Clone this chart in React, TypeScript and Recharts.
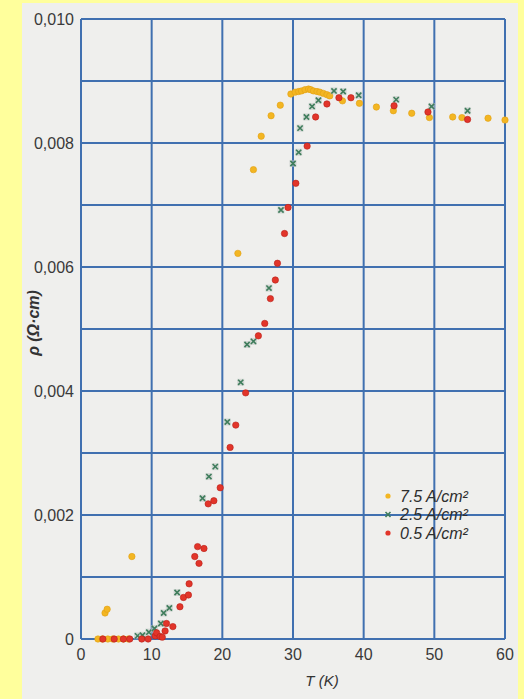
import { ScatterChart, Scatter, XAxis, YAxis, CartesianGrid, Legend } from 'recharts'

// T (K) and rho (ohm*cm), one pair of arrays per current density
const yellowT = [2.4, 3.0, 3.4, 3.7, 3.8, 4.5, 5.3, 6.0, 6.7, 7.2, 22.2, 24.4, 25.5, 26.9, 28.2, 29.7, 30.3, 30.8, 31.2, 31.7, 32.2, 32.5, 32.9, 33.4, 33.8, 34.3, 34.8, 35.2, 37.0, 39.4, 41.8, 44.2, 46.8, 49.3, 52.6, 53.9, 57.6, 60.0]
const yellowRho = [0, 0, 0.00042, 0.00048, 0, 0, 0, 0, 0, 0.00133, 0.00622, 0.00757, 0.00811, 0.00844, 0.00861, 0.00879, 0.00882, 0.00883, 0.00884, 0.00886, 0.00887, 0.00886, 0.00884, 0.00883, 0.00882, 0.0088, 0.00878, 0.00876, 0.00868, 0.00864, 0.00858, 0.00852, 0.00848, 0.00841, 0.00842, 0.00841, 0.0084, 0.00837]

const greenT = [8.0, 8.7, 9.6, 10.4, 11.3, 11.7, 12.5, 13.6, 17.2, 18.1, 19.0, 20.7, 22.6, 23.5, 24.4, 26.6, 28.3, 30.0, 30.8, 31.0, 31.9, 32.7, 33.6, 35.8, 37.1, 39.3, 44.6, 49.6, 54.7]
const greenRho = [0.00005, 0.00006, 0.00011, 0.00017, 0.00025, 0.00042, 0.0005, 0.00075, 0.00227, 0.00262, 0.00278, 0.0035, 0.00414, 0.00475, 0.0048, 0.00566, 0.00692, 0.00767, 0.00785, 0.00824, 0.00842, 0.00859, 0.00869, 0.00884, 0.00883, 0.00877, 0.0087, 0.00859, 0.00852]

const redT = [3.1, 4.7, 6.0, 6.9, 8.6, 9.5, 10.5, 10.7, 11.2, 11.5, 11.9, 12.1, 13.0, 14.0, 14.5, 15.2, 15.3, 16.1, 16.5, 16.7, 17.4, 18.0, 18.8, 19.7, 21.1, 21.9, 23.3, 25.1, 26.0, 26.8, 27.5, 27.8, 28.8, 29.3, 30.4, 32.0, 33.2, 34.8, 36.5, 38.2, 44.3, 49.1, 54.7]
const redRho = [0, 0, 0, 0, 0, 0, 0.00005, 0.0001, 0.00004, 0.00003, 0.00013, 0.00025, 0.0002, 0.00052, 0.00067, 0.00071, 0.00089, 0.00133, 0.00149, 0.00122, 0.00146, 0.00218, 0.00223, 0.00244, 0.00309, 0.00345, 0.00397, 0.00489, 0.00509, 0.00549, 0.00579, 0.00606, 0.00654, 0.00696, 0.00735, 0.00795, 0.00842, 0.00863, 0.00873, 0.00873, 0.0086, 0.0085, 0.00838]

const xTicks = [0, 10, 20, 30, 40, 50, 60]
const yTicks = [0, 0.001, 0.002, 0.003, 0.004, 0.005, 0.006, 0.007, 0.008, 0.009, 0.01]

const seriesNames = ['7.5 A/cm²', '2.5 A/cm²', '0.5 A/cm²']

const YELLOW = '#f3b622'
const GREEN = '#3f7d5c'
const RED = '#e2352a'
const GRID = '#4070b0'
const FONT = '"Liberation Sans", Arial, sans-serif'

const toPoints = (ts: number[], rs: number[]) => ts.map((t, i) => ({ t, rho: rs[i] }))

const Dot = (color: string, edge: string) => (props: any) => {
  const { cx, cy } = props
  return <circle cx={cx} cy={cy} r={3.2} fill={color} stroke={edge} strokeWidth={0.6} />
}

const Cross = (props: any) => {
  const { cx, cy } = props
  const s = 2.6
  return (
    <g>
      <rect x={cx - 3.5} y={cy - 3.5} width={7} height={7} fill='#b9c2bd' opacity={0.55} />
      <path d={`M${cx - s},${cy - s}L${cx + s},${cy + s}M${cx + s},${cy - s}L${cx - s},${cy + s}`} stroke={GREEN} strokeWidth={1.6} />
    </g>
  )
}

const fmtY = (v: number) => {
  const k = Math.round(v * 1000)
  if (k === 0) return '0'
  if (k % 2 !== 0) return ''
  return v.toFixed(3).replace('.', ',')
}

const renderLegend = () => {
  const marks = [
    <circle cx={5} cy={0} r={2.6} fill={YELLOW} />,
    <path d='M2.5,-2.5L7.5,2.5M7.5,-2.5L2.5,2.5' stroke={GREEN} strokeWidth={1.6} />,
    <circle cx={5} cy={0} r={2.6} fill={RED} />
  ]
  return (
    <svg width={110} height={56}>
      {seriesNames.map((name, i) => (
        <g key={name} transform={`translate(0, ${9 + i * 18.5})`}>
          {marks[i]}
          <text x={17} y={0} dy='0.35em' fontFamily={FONT} fontStyle='italic' fontSize={16} fill='#2e2e2e'>
            {name}
          </text>
        </g>
      ))}
    </svg>
  )
}

export default function App() {
  return (
    <div style={{ position: 'absolute', left: 0, top: 0, width: 524, height: 699, background: '#ffff9c', overflow: 'hidden' }}>
      <div style={{ position: 'absolute', left: 22, top: 3, width: 496, height: 696, background: '#efefed' }} />
      <div style={{ position: 'absolute', left: 0, top: 0 }}>
        <ScatterChart width={524} height={699} margin={{ top: 19, right: 19, bottom: 30, left: 26 }}>
          <CartesianGrid stroke={GRID} strokeWidth={2} />
          <XAxis
            type='number'
            dataKey='t'
            domain={[0, 60]}
            ticks={xTicks}
            height={30}
            axisLine={{ stroke: GRID, strokeWidth: 2 }}
            tickLine={false}
            tickMargin={4}
            tick={{ fill: '#3a3a3a', fontSize: 16, fontFamily: FONT }}
            interval={0}
          />
          <YAxis
            type='number'
            dataKey='rho'
            domain={[0, 0.01]}
            ticks={yTicks}
            width={55}
            axisLine={{ stroke: GRID, strokeWidth: 2 }}
            tickLine={false}
            tickSize={0}
            tickMargin={7}
            tickFormatter={fmtY}
            tick={{ fill: '#3a3a3a', fontSize: 16, fontFamily: FONT }}
            interval={0}
          />
          <Legend
            layout='vertical'
            verticalAlign='middle'
            align='center'
            wrapperStyle={{ left: 383, top: 487, width: 110 }}
            content={renderLegend}
          />
          <Scatter name={seriesNames[0]} data={toPoints(yellowT, yellowRho)} shape={Dot(YELLOW, '#e0a014')} isAnimationActive={false} />
          <Scatter name={seriesNames[1]} data={toPoints(greenT, greenRho)} shape={Cross} isAnimationActive={false} />
          <Scatter name={seriesNames[2]} data={toPoints(redT, redRho)} shape={Dot(RED, '#b8201a')} isAnimationActive={false} />
        </ScatterChart>
      </div>
      <svg width={524} height={699} style={{ position: 'absolute', left: 0, top: 0, pointerEvents: 'none' }}>
        <text
          transform='translate(33, 323) rotate(-90)'
          textAnchor='middle'
          dominantBaseline='central'
          fontFamily={FONT}
          fontStyle='italic'
          fontWeight='bold'
          fontSize={16}
          fill='#333'
        >
          ρ (Ω·cm)
        </text>
        <text x={322} y={686} textAnchor='middle' fontFamily={FONT} fontStyle='italic' fontSize={15} fill='#333'>
          T (K)
        </text>
      </svg>
    </div>
  )
}
